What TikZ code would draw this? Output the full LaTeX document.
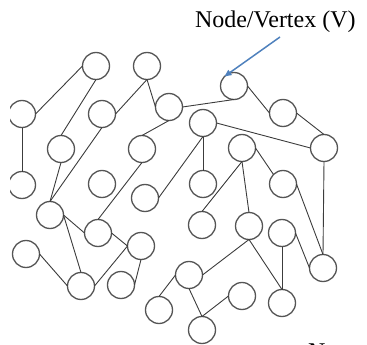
\documentclass[tikz,border=0pt]{standalone}
\usepackage{fontspec}
\setmainfont{Liberation Serif}
\usetikzlibrary{arrows.meta}
\definecolor{ringgray}{RGB}{85,85,85}
\definecolor{edgegray}{RGB}{60,60,60}
\definecolor{arrowblue}{RGB}{79,129,189}
\tikzset{
  vtx/.style={circle,draw=ringgray,line width=1.3pt,fill=white,minimum size=27pt,inner sep=0pt,outer sep=0pt},
  edg/.style={draw=edgegray,line width=0.9pt},
  lbl/.style={inner sep=0pt,outer sep=0pt,font=\fontsize{24}{28}\selectfont}
}
\begin{document}
\begin{tikzpicture}[x=1pt,y=-1pt]
\useasboundingbox (0,0) rectangle (367,345);
\clip (10,0) rectangle (367,345);
% vertices
\node[vtx] (c1) at (96,66) {};
\node[vtx] (c2) at (147,66) {};
\node[vtx] (c3) at (22,114) {};
\node[vtx] (c4) at (102,114) {};
\node[vtx] (c5) at (169,107) {};
\node[vtx] (c6) at (61,149) {};
\node[vtx] (c7) at (142,149) {};
\node[vtx] (c8) at (234,86) {};
\node[vtx] (c9) at (283,113) {};
\node[vtx] (c10) at (203,123) {};
\node[vtx] (c11) at (242,148) {};
\node[vtx] (c12) at (324,148) {};
\node[vtx] (c13) at (22,185) {};
\node[vtx] (c14) at (102,184) {};
\node[vtx] (c15) at (145,198) {};
\node[vtx] (c16) at (50,215) {};
\node[vtx] (c17) at (98,233) {};
\node[vtx] (c18) at (26,254) {};
\node[vtx] (c19) at (141,246) {};
\node[vtx] (c20) at (81,286) {};
\node[vtx] (c21) at (121,285) {};
\node[vtx] (c22) at (159,310) {};
\node[vtx] (c23) at (203,184) {};
\node[vtx] (c24) at (283,184) {};
\node[vtx] (c25) at (202,225) {};
\node[vtx] (c26) at (249,226) {};
\node[vtx] (c27) at (282,233) {};
\node[vtx] (c28) at (323,268) {};
\node[vtx] (c29) at (189,275) {};
\node[vtx] (c30) at (242,296) {};
\node[vtx] (c31) at (282,303) {};
\node[vtx] (c32) at (202,330) {};
% edges
\draw[edg] (c3.east) -- (c1.west);
\draw[edg] (c3.south) -- (c13.north);
\draw[edg] (c1.south) -- (c6.north);
\draw[edg] (c4.east) -- (c2.south);
\draw[edg] (c2.south) -- (c5.west);
\draw[edg] (c5.south) -- (c7.north);
\draw[edg] (c6.south) -- (c16.north);
\draw[edg] (c4.south) -- (c16.north);
\draw[edg] (c7.south) -- (c17.north);
\draw[edg] (c15.east) -- (c10.south);
\draw[edg] (c10.south) -- (c23.north);
\draw[edg] (c10.east) -- (c12.west);
\draw[edg] (c5.east) -- (c8.south);
\draw[edg] (c8.east) -- (c9.west);
\draw[edg] (c9.east) -- (c12.north);
\draw[edg] (c11.south) -- (c26.north);
\draw[edg] (c11.south) -- (c25.north);
\draw[edg] (c11.east) -- (c24.north west);
\draw[edg] (c12.south) -- (c28.north);
\draw[edg] (c24.east) -- (c28.north);
\draw[edg] (c27.east) -- (c28.west);
\draw[edg] (c27.south) -- (c31.north);
\draw[edg] (c26.south) -- (c31.north);
\draw[edg] (c26.south) -- (c29.east);
\draw[edg] (c29.south) -- (c32.north);
\draw[edg] (c30.west) -- (c32.north);
\draw[edg] (c22.north) -- (c29.west);
\draw[edg] (c16.east) -- (c17.west);
\draw[edg] (c16.east) -- (c20.north);
\draw[edg] (c18.east) -- (c20.west);
\draw[edg] (c17.east) -- (c19.west);
\draw[edg] (c19.west) -- (c20.east);
\draw[edg] (c19.south) -- (c21.east);
% label and arrow
\node[lbl,anchor=base west] (title) at (195,28) {Node/Vertex (V)};
\coordinate (tail) at (280,37);
\draw[draw=arrowblue,line width=1.5pt,-{Triangle[length=7pt,width=6pt]}] (tail) -- (c8.north west);
\node[lbl,anchor=base west] (cut) at (308,359) {N};
\end{tikzpicture}
\end{document}
